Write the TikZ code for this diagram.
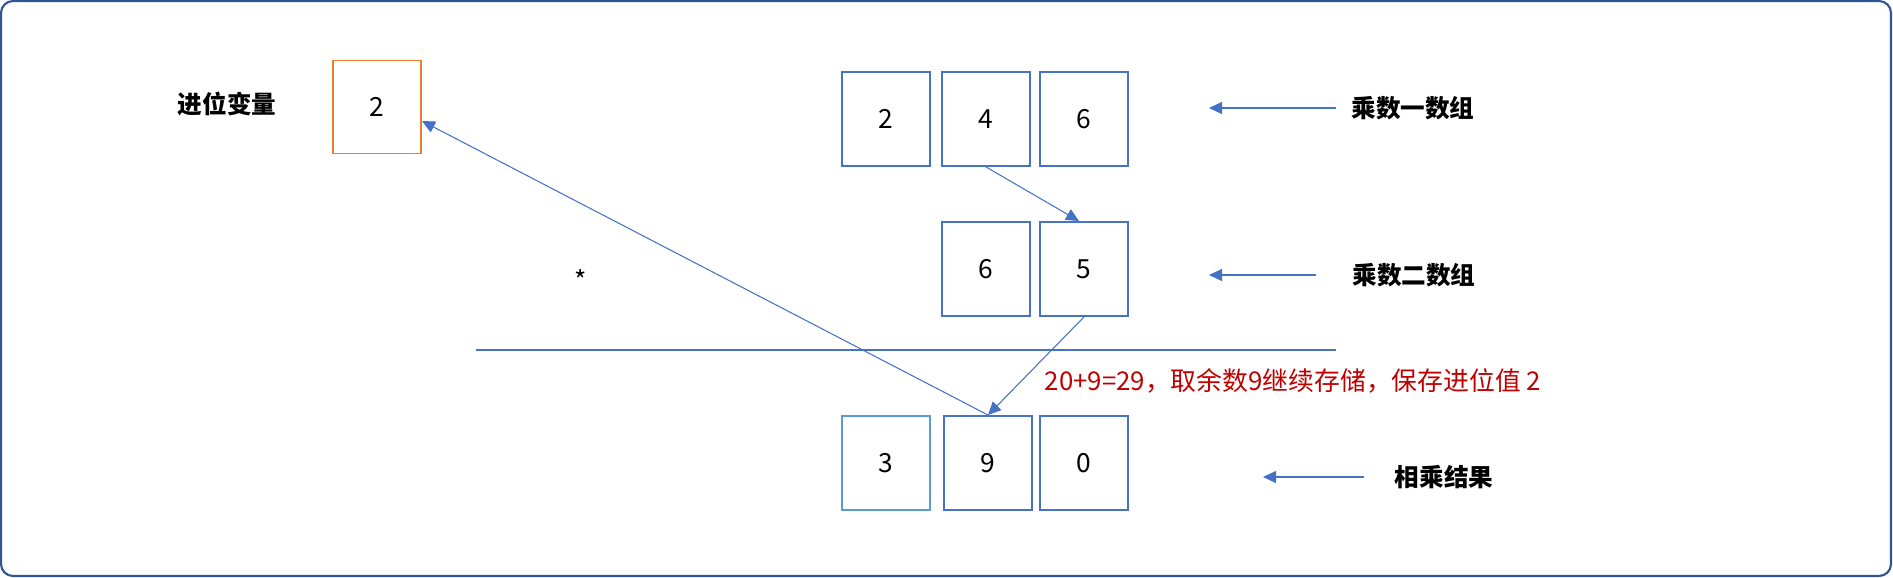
\documentclass[tikz,border=0pt]{standalone}
\usepackage{fontspec}
\newfontfamily\cjk{Noto Sans CJK SC}
\usetikzlibrary{arrows.meta}
\definecolor{cellblue}{RGB}{68,114,196}
\definecolor{cellsky}{RGB}{91,155,213}
\definecolor{carryorange}{RGB}{237,125,49}
\definecolor{framenavy}{RGB}{47,85,151}
\definecolor{notered}{RGB}{192,0,0}

\begin{document}
\begin{tikzpicture}[x=0.02cm, y=-0.02cm,
    cell/.style={draw=cellblue, line width=1.1pt, minimum width=1.76cm, minimum height=1.88cm,
        inner sep=0pt, font=\cjk\fontsize{15}{18}\selectfont},
    tag/.style={font=\cjk\bfseries\fontsize{14}{17}\selectfont},
    arr/.style={draw=cellblue, line width=0.6pt, -{Triangle[length=0.26cm, width=0.24cm]}}]
    \useasboundingbox (0,0) rectangle (1893,578);

    % Frame
    \draw[framenavy, line width=1.2pt, rounded corners=0.24cm] (1,1) rectangle (1891,576);

    % Carry variable
    \node[tag] (carrylabel) at (227,104) {进位变量};
    \node[cell, draw=carryorange, minimum height=1.86cm] (carry) at (377,107) {2};

    % Multiplicand digits
    \foreach \x/\d/\n in {886/2/a1, 986/4/a2, 1084/6/a3} {
        \node[cell] (\n) at (\x,119) {\d};
    }

    % Multiplier digits
    \foreach \x/\d/\n in {986/6/b1, 1084/5/b2} {
        \node[cell] (\n) at (\x,269) {\d};
    }

    % Product digits
    \node[cell, draw=cellsky] (r1) at (886,463) {3};
    \foreach \x/\d/\n in {988/9/r2, 1084/0/r3} {
        \node[cell] (\n) at (\x,463) {\d};
    }

    % Multiplication sign and rule
    \node[font=\cjk\fontsize{15}{18}\selectfont] (times) at (581,280) {*};
    \draw[cellblue, line width=0.6pt] (476,350) -- (1336,350);

    % Side labels
    \node[tag] (lab1) at (1413,108) {乘数一数组};
    \node[tag] (lab2) at (1414,275) {乘数二数组};
    \node[tag] (lab3) at (1444,477) {相乘结果};
    \coordinate (t1) at (1336,108);
    \coordinate (h1) at (1209,108);
    \coordinate (t2) at (1316,275);
    \coordinate (h2) at (1209,275);
    \coordinate (t3) at (1364,477);
    \coordinate (h3) at (1263,477);
    \draw[arr] (t1) -- (h1);
    \draw[arr] (t2) -- (h2);
    \draw[arr] (t3) -- (h3);

    % Step note
    \node[font=\cjk\fontsize{14.7}{17}\selectfont, text=notered] (note) at (1293,381)
        {20+9=29，取余数9继续存储，保存进位值 2};

    % Connectors
    \draw[arr] (a2.south) -- ([xshift=-0.1cm]b2.north);
    \draw[arr] (b2.south) -- (r2.north);
    \draw[arr] (r2.north) -- ([yshift=-0.28cm]carry.east);
\end{tikzpicture}
\end{document}
